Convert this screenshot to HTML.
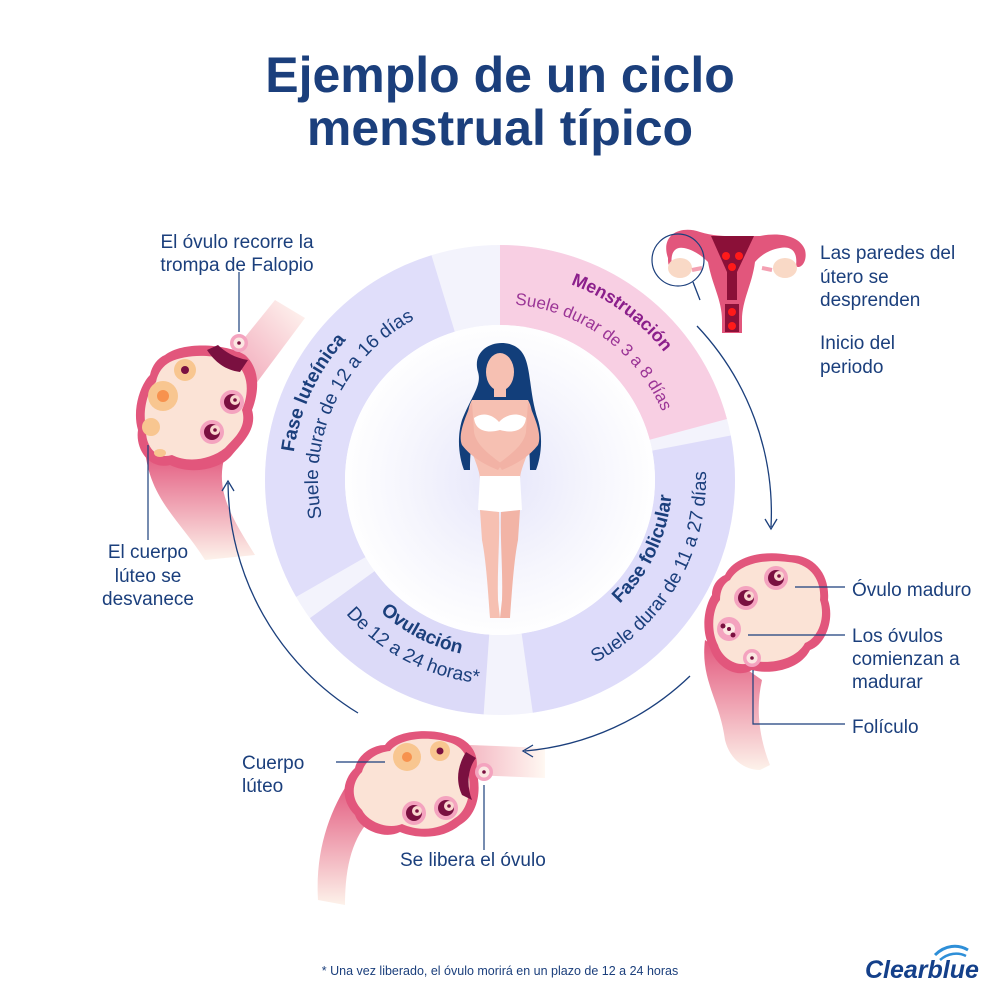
<!DOCTYPE html>
<html><head><meta charset="utf-8"><style>
html,body{margin:0;padding:0;background:#fff;}
svg{display:block;}
text{font-family:"Liberation Sans",sans-serif;}
</style></head><body>
<svg width="1000" height="1000" viewBox="0 0 1000 1000" xmlns="http://www.w3.org/2000/svg">
<defs>
<radialGradient id="inner" cx="500" cy="480" r="160" gradientUnits="userSpaceOnUse">
<stop offset="0" stop-color="#e6e6fa"/><stop offset="0.6" stop-color="#f6f6fd"/><stop offset="1" stop-color="#ffffff"/>
</radialGradient>
<linearGradient id="tubeD" x1="0" y1="0" x2="0" y2="1"><stop offset="0" stop-color="#e2567c"/><stop offset="1" stop-color="#fdf2ea"/></linearGradient>
<linearGradient id="tubeR" x1="0" y1="0" x2="1" y2="0"><stop offset="0" stop-color="#f4b9c4"/><stop offset="1" stop-color="#fff8f2"/></linearGradient>
<linearGradient id="tubeU" x1="0" y1="1" x2="1" y2="0"><stop offset="0" stop-color="#f0a0b4"/><stop offset="1" stop-color="#fff8f2"/></linearGradient>
<path id="lutB" d="M311.5,568 A208,208 0 0 1 446.2,279.1"/>
<path id="lutR" d="M335.1,557 A182,182 0 0 1 452.9,304.2"/>
<path id="menB" d="M500,272 A208,208 0 0 1 697.8,415.7"/>
<path id="menR" d="M500,304 A176,176 0 0 1 667.4,425.6"/>
<path id="folB" d="M544.5,646.2 A172,172 0 0 0 666.2,435.5"/>
<path id="folR" d="M553.3,679 A206,206 0 0 0 699,426.7"/>
<path id="ovuB" d="M332.7,540.9 A178,178 0 0 0 546.1,651.9"/>
<path id="ovuR" d="M308.3,549.8 A204,204 0 0 0 552.8,677.1"/>
<g id="fol">
<circle r="12" fill="#f4a3bf"/><circle r="8" fill="#7a1040"/><circle cx="3" cy="-2" r="5" fill="#f9d6cf"/><circle cx="3" cy="-2" r="1.8" fill="#7a1040"/>
</g>
<g id="egg"><circle r="9" fill="#f4a3bf"/><circle r="5.5" fill="#fbe7e2"/><circle r="1.8" fill="#7a1040"/></g>
</defs>

<text x="500" y="92" text-anchor="middle" font-size="50" font-weight="bold" fill="#1b3f7c">Ejemplo de un ciclo</text>
<text x="500" y="145" text-anchor="middle" font-size="50" font-weight="bold" fill="#1b3f7c">menstrual típico</text>

<circle cx="500" cy="480" r="195" fill="none" stroke="#f3f3fc" stroke-width="80"/>
<g transform="rotate(-90 500 480)" fill="none" stroke-width="80">
<circle cx="500" cy="480" r="195" stroke="#f8cfe3" stroke-dasharray="255 2000" stroke-dashoffset="0"/>
<circle cx="500" cy="480" r="195" stroke="#dedcfa" stroke-dasharray="316 2000" stroke-dashoffset="-269"/>
<circle cx="500" cy="480" r="195" stroke="#dcdaf8" stroke-dasharray="170 2000" stroke-dashoffset="-626"/>
<circle cx="500" cy="480" r="195" stroke="#e0defa" stroke-dasharray="350 2000" stroke-dashoffset="-817"/>
</g>
<circle cx="500" cy="480" r="155" fill="url(#inner)"/>

<text font-size="19" font-weight="bold" fill="#1b3f7c"><textPath href="#lutB" startOffset="50%" text-anchor="middle">Fase luteínica</textPath></text>
<text font-size="19" fill="#1b3f7c"><textPath href="#lutR" startOffset="50%" text-anchor="middle">Suele durar de 12 a 16 días</textPath></text>
<text font-size="18" font-weight="bold" fill="#8b1f8b"><textPath href="#menB" startOffset="50%" text-anchor="middle">Menstruación</textPath></text>
<text font-size="17" fill="#9b3596"><textPath href="#menR" startOffset="50%" text-anchor="middle">Suele durar de 3 a 8 días</textPath></text>
<text font-size="19" font-weight="bold" fill="#1b3f7c"><textPath href="#folB" startOffset="55%" text-anchor="middle">Fase folicular</textPath></text>
<text font-size="19" fill="#1b3f7c"><textPath href="#folR" startOffset="50%" text-anchor="middle">Suele durar de 11 a 27 días</textPath></text>
<text font-size="19" font-weight="bold" fill="#1b3f7c"><textPath href="#ovuB" startOffset="50%" text-anchor="middle">Ovulación</textPath></text>
<text font-size="19" fill="#1b3f7c"><textPath href="#ovuR" startOffset="50%" text-anchor="middle">De 12 a 24 horas*</textPath></text>

<!-- woman -->
<g>
<path d="M478,372 C470,345 505,335 520,350 C532,362 528,390 538,420 C544,440 540,460 536,470 L530,470 C530,450 528,430 520,415 L480,415 C472,430 470,450 470,470 L464,470 C460,460 456,440 462,420 C472,395 482,385 478,372Z" fill="#123e7a"/>
<ellipse cx="500" cy="372" rx="14" ry="19" fill="#f6c0b2"/>
<rect x="494" y="385" width="12" height="12" fill="#f6c0b2"/>
<path d="M472,400 L528,400 C534,410 534,430 530,445 C526,460 520,470 520,480 L480,480 C480,470 474,460 470,445 C466,430 466,410 472,400Z" fill="#f6c0b2"/>
<path d="M472,402 C464,420 458,435 462,445 C472,458 486,465 498,470 L502,464 C490,455 476,445 474,432Z" fill="#f2b2a5"/>
<path d="M528,402 C536,420 542,435 538,445 C528,458 514,465 502,470 L498,464 C510,455 524,445 526,432Z" fill="#f2b2a5"/>
<path d="M474,418 C482,412 492,414 499,422 C506,414 518,412 526,418 C525,430 514,434 500,430 C486,434 475,430 474,418Z" fill="#fff"/>
<path d="M480,476 L520,476 L522,510 L502,512 L498,512 L478,510Z" fill="#fff"/>
<path d="M480,510 L499,512 C500,540 497,570 498,600 L500,618 L490,618 C488,590 486,560 482,540Z" fill="#f6c0b2"/>
<path d="M520,510 L501,512 C500,540 503,570 502,600 L500,618 L510,618 C512,590 514,560 518,540Z" fill="#f2b4a6"/>
</g>

<!-- uterus -->
<g>
<path d="M668,258 C660,235 680,225 700,232 C720,238 740,236 760,236 C780,232 800,236 805,250 C808,262 800,270 796,266 C798,250 790,246 780,248 C768,250 760,256 755,262 C752,285 742,300 742,320 L742,333 L722,333 L722,320 C722,300 712,285 708,262 C702,256 694,250 684,248 C674,246 670,254 672,266 C668,268 668,262 668,258Z" fill="#e2567c"/>
<path d="M711,236 L754,236 L737,272 L737,300 L727,300 L727,272Z" fill="#8b1038"/>
<rect x="725" y="304" width="14" height="28" fill="#8b1038"/>
<g fill="#ff1a1a"><circle cx="726" cy="256" r="4"/><circle cx="739" cy="256" r="4"/><circle cx="732" cy="267" r="4"/><circle cx="732" cy="312" r="4"/><circle cx="732" cy="326" r="4"/></g>
<ellipse cx="680" cy="268" rx="12" ry="10" fill="#f9d9c6"/>
<ellipse cx="785" cy="268" rx="12" ry="10" fill="#f9d9c6"/>
<path d="M692,270 L702,268 M762,268 L772,270" stroke="#f4a0b2" stroke-width="4"/>
<circle cx="678" cy="260" r="26" fill="none" stroke="#1b3f7c" stroke-width="1.2"/>
</g>

<!-- left ovary -->
<g>
<path d="M225,362 L275,300 L305,318 L255,385Z" fill="url(#tubeU)"/>
<path d="M145,450 C150,500 180,520 205,560 L255,555 C230,515 215,490 225,455Z" fill="url(#tubeD)"/>
<path d="M165,355 C185,340 230,345 245,355 C262,370 258,395 252,410 C258,430 240,445 232,455 C220,470 190,475 170,465 C150,470 135,450 138,430 C132,410 140,385 150,375 C152,365 158,358 165,355Z" fill="#e2567c"/>
<path d="M170,362 C190,352 225,355 238,365 C250,378 248,396 242,410 C248,428 232,440 225,448 C210,460 188,463 172,455 C155,460 145,445 146,428 C142,410 148,390 156,382 C158,372 163,366 170,362Z" fill="#fbe3d6"/>
<path d="M207,350 C215,362 225,370 240,372 L248,360 C235,358 225,352 218,345Z" fill="#7a1040"/>
<circle cx="185" cy="370" r="11" fill="#f8c690"/><circle cx="185" cy="370" r="4" fill="#7a1040"/>
<circle cx="163" cy="396" r="15" fill="#f8c690"/><circle cx="163" cy="396" r="6" fill="#f7924e"/>
<circle cx="151" cy="427" r="9" fill="#f8c690"/><ellipse cx="160" cy="453" rx="6" ry="4" fill="#f8c690"/>
<use href="#fol" x="232" y="402"/><use href="#fol" x="212" y="432"/>
<use href="#egg" x="239" y="343"/>
</g>

<!-- right ovary -->
<g>
<path d="M705,640 C700,680 720,700 725,740 C730,760 745,770 760,770 L770,765 C760,740 755,710 762,680 Z" fill="url(#tubeD)"/>
<path d="M725,575 C735,555 765,550 790,555 C815,555 830,575 828,600 C835,620 825,645 810,650 C800,670 770,675 752,670 C735,680 715,665 710,648 C700,630 705,605 712,595 C712,585 718,578 725,575Z" fill="#e2567c"/>
<path d="M730,580 C740,563 765,559 788,562 C810,563 822,580 820,600 C826,618 818,638 805,643 C796,660 770,664 755,661 C738,670 722,658 718,645 C710,630 713,608 720,600 C720,590 724,583 730,580Z" fill="#fbe3d6"/>
<use href="#fol" x="776" y="578"/><use href="#fol" x="746" y="598"/>
<g transform="translate(729,629)"><circle r="12" fill="#f4a3bf"/><circle r="6" fill="#fbe7e2"/><circle r="2" fill="#7a1040"/><circle cx="-6" cy="-3" r="2.5" fill="#7a1040"/><circle cx="4" cy="6" r="2.5" fill="#7a1040"/></g>
<use href="#egg" x="752" y="658"/>
</g>

<!-- bottom ovary -->
<g>
<path d="M470,745 L545,748 L545,778 L470,775Z" fill="url(#tubeR)"/>
<path d="M350,780 C330,810 315,850 318,900 L345,905 C345,860 355,830 380,810Z" fill="url(#tubeD)"/>
<path d="M385,745 C395,730 430,728 450,735 C470,738 480,755 476,770 C482,790 478,815 460,825 C445,838 420,840 400,832 C385,840 360,830 355,815 C340,800 342,780 355,768 C358,755 372,745 385,745Z" fill="#e2567c"/>
<path d="M390,751 C400,738 428,736 448,742 C464,746 470,760 468,772 C472,790 468,810 455,818 C440,830 420,832 402,824 C388,830 368,822 362,810 C350,798 352,782 362,772 C365,760 378,752 390,751Z" fill="#fbe3d6"/>
<path d="M466,752 C458,765 455,780 462,795 L472,800 C466,785 468,768 476,758Z" fill="#7a1040"/>
<circle cx="407" cy="757" r="14" fill="#f8c690"/><circle cx="407" cy="757" r="5" fill="#f7924e"/>
<circle cx="440" cy="751" r="10" fill="#f8c690"/><circle cx="440" cy="751" r="3.5" fill="#7a1040"/>
<use href="#fol" x="414" y="813"/><use href="#fol" x="446" y="808"/>
<use href="#egg" x="484" y="772"/>
</g>

<!-- connector arcs -->
<g fill="none" stroke="#1b3f7c" stroke-width="1.3">
<path d="M697,326 A272,272 0 0 1 771,527"/>
<path d="M690,676 A272,272 0 0 1 525,751"/>
<path d="M358,713 A272,272 0 0 1 228,483"/>
<path d="M693,282 L700,300"/>
<path d="M765,519 L771,529 L777,519"/>
<path d="M533,745 L523,751 L533,757"/>
<path d="M222,491 L228,481 L234,491"/>
</g>

<!-- leader lines -->
<g stroke="#1b3f7c" stroke-width="1.2" fill="none">
<path d="M239,272 L239,332"/>
<path d="M148,445 L148,540"/>
<path d="M795,587 L845,587"/>
<path d="M748,635 L845,635"/>
<path d="M753,670 L753,724 L845,724"/>
<path d="M336,762 L385,762"/>
<path d="M484,785 L484,850"/>
</g>

<g font-size="19" fill="#1b3f7c">
<text x="237" y="248" text-anchor="middle">El óvulo recorre la</text>
<text x="237" y="271" text-anchor="middle">trompa de Falopio</text>
<text x="820" y="259">Las paredes del</text>
<text x="820" y="283">útero se</text>
<text x="820" y="306">desprenden</text>
<text x="820" y="349">Inicio del</text>
<text x="820" y="373">periodo</text>
<text x="852" y="596">Óvulo maduro</text>
<text x="852" y="642">Los óvulos</text>
<text x="852" y="665">comienzan a</text>
<text x="852" y="688">madurar</text>
<text x="852" y="733">Folículo</text>
<text x="148" y="558" text-anchor="middle">El cuerpo</text>
<text x="148" y="582" text-anchor="middle">lúteo se</text>
<text x="148" y="605" text-anchor="middle">desvanece</text>
<text x="242" y="769">Cuerpo</text>
<text x="242" y="792">lúteo</text>
<text x="400" y="866">Se libera el óvulo</text>
</g>
<text x="500" y="975" text-anchor="middle" font-size="12.5" fill="#1b3f7c">* Una vez liberado, el óvulo morirá en un plazo de 12 a 24 horas</text>

<g>
<path d="M935,955 C945,945 958,944 968,950" stroke="#2e8fd8" stroke-width="3" fill="none"/>
<path d="M940,960 C948,953 958,952 966,956" stroke="#2e8fd8" stroke-width="2.5" fill="none"/>
<text x="865" y="978" font-size="25" font-weight="bold" fill="#14408a" font-style="italic">Clearblue</text>
</g>
</svg>
</body></html>
